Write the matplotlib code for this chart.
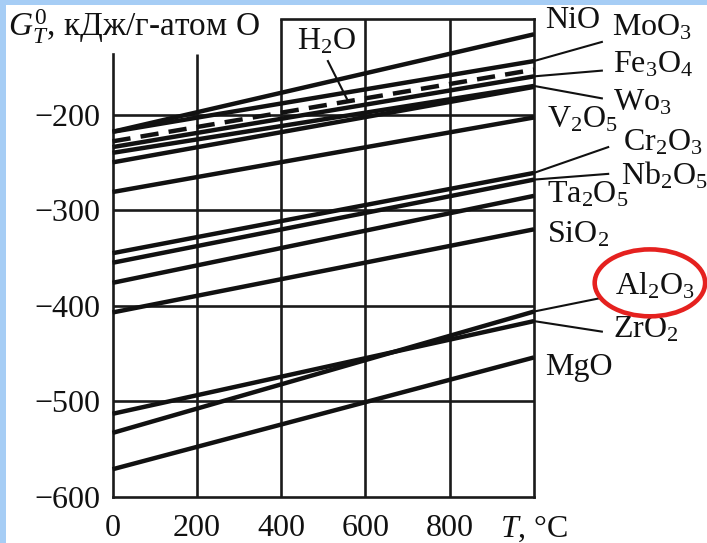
import matplotlib
matplotlib.use('Agg')
import matplotlib.pyplot as plt
from matplotlib.patches import Ellipse, Rectangle

plt.rcParams['font.family'] = ['Liberation Serif', 'DejaVu Serif']
plt.rcParams['mathtext.fontset'] = 'custom'
plt.rcParams['mathtext.rm'] = 'Liberation Serif'
plt.rcParams['mathtext.it'] = 'Liberation Serif:italic'
plt.rcParams['mathtext.bf'] = 'Liberation Serif:bold'

# ---- data ----
temps = [0, 1000]
oxides = ['NiO', 'MoO3', 'H2O', 'Fe3O4', 'WO3', 'unlabeled', 'V2O5', 'Cr2O3',
          'Nb2O5', 'Ta2O5', 'SiO2', 'Al2O3', 'ZrO2', 'MgO']
g_start = [-218, -218, -228, -234, -240, -250, -281, -345, -355, -376, -407, -533, -513, -571]
g_end = [-116, -144, -153, -160, -170, -171, -203, -261, -268, -285, -320, -406, -416, -454]
dashed = ['H2O']

x_ticks = [0, 200, 400, 600, 800, 1000]
x_ticklabels = ['0', '200', '400', '600', '800', '$T$, °C']
y_ticks = [-600, -500, -400, -300, -200]
y_ticklabels = ['−600', '−500', '−400', '−300', '−200']
y_title = '$G_T^0$, кДж/г-атом O'

label_text = {
    'NiO': 'NiO', 'MoO3': 'MoO$_3$', 'Fe3O4': 'Fe$_3$O$_4$', 'WO3': 'Wo$_3$',
    'V2O5': 'V$_2$O$_5$', 'Cr2O3': 'Cr$_2$O$_3$', 'Nb2O5': 'Nb$_2$O$_5$',
    'Ta2O5': 'Ta$_2$O$_5$', 'SiO2': 'SiO$_2$', 'Al2O3': 'Al$_2$O$_3$',
    'ZrO2': 'ZrO$_2$', 'MgO': 'MgO', 'H2O': 'H$_2$O',
}
# label anchor (left, baseline) in data units
label_pos = {
    'NiO': (1026, -109), 'MoO3': (1185, -117), 'Fe3O4': (1187, -156),
    'WO3': (1187, -196), 'V2O5': (1031, -214), 'Cr2O3': (1211, -238),
    'Nb2O5': (1206, -273), 'Ta2O5': (1031, -292), 'SiO2': (1031, -334),
    'Al2O3': (1192, -388), 'ZrO2': (1187, -433), 'MgO': (1026, -472),
    'H2O': (438, -132),
}
# leader end points (data units)
leaders = {
    'MoO3': (1161, -124), 'Fe3O4': (1161, -154), 'WO3': (1161, -183),
    'Cr2O3': (1176, -234), 'Nb2O5': (1176, -262), 'Al2O3': (1157, -392),
    'ZrO2': (1161, -427),
}

W, H = 707, 543
fig = plt.figure(figsize=(W / 100, H / 100), dpi=100)
fig.patch.set_facecolor('white')
fig.patches.append(Rectangle((0, 0), 6 / W, 1, transform=fig.transFigure,
                             facecolor='#a6cdf5', edgecolor='none', zorder=0))
fig.patches.append(Rectangle((0, (H - 5) / H), 1, 5 / H, transform=fig.transFigure,
                             facecolor='#a6cdf5', edgecolor='none', zorder=0))

ax = fig.add_axes([112.5 / W, 46 / H, 421.5 / W, 478 / H])
ax.set_zorder(2)
ax.set_facecolor('none')
ax.set_xlim(0, 1000)
ax.set_ylim(-600, -100)

lw_grid = 1.9
for s in ax.spines.values():
    s.set_linewidth(lw_grid)
    s.set_color('#1a1a1a')
ax.spines['top'].set_bounds(400, 1000)
ax.spines['left'].set_bounds(-600, -137)

ax.vlines([200], -600, -137, colors='#1a1a1a', lw=lw_grid, zorder=1)
ax.vlines([400, 600, 800], -600, -100, colors='#1a1a1a', lw=lw_grid, zorder=1)
ax.hlines([-500, -400, -300, -200], 0, 1000, colors='#1a1a1a', lw=lw_grid, zorder=1)

for name, g0, g1 in zip(oxides, g_start, g_end):
    ls = (0, (4.1, 2.3)) if name in dashed else '-'
    ax.plot(temps, [g0, g1], color='#111111', lw=3.2, ls=ls,
            solid_capstyle='butt', zorder=3, clip_on=False)

fs = 23
ax.set_xticks(x_ticks)
ax.set_xticklabels(x_ticklabels, fontsize=fs)
ax.set_yticks(y_ticks)
ax.set_yticklabels(y_ticklabels, fontsize=fs)
ax.tick_params(length=0, pad=9, colors='#111111')
ax.tick_params(axis='x', pad=12)

ax.text(-248, -118, y_title, fontsize=24, ha='left', va='baseline',
        color='#111111', clip_on=False)

for name, txt in label_text.items():
    x, y = label_pos[name]
    ax.text(x, y, txt, fontsize=fs, ha='left', va='baseline',
            color='#111111', clip_on=False)

for name, (xe, ye) in leaders.items():
    i = oxides.index(name)
    ax.plot([1000, xe], [g_end[i], ye], color='#111111', lw=1.5,
            clip_on=False, zorder=3)

# H2O leader onto dashed line
i = oxides.index('H2O')
xh = 559
yh = g_start[i] + (g_end[i] - g_start[i]) * xh / 1000
ax.plot([xh, 511], [yh, -144], color='#111111', lw=1.5, clip_on=False, zorder=3)

ax.add_patch(Ellipse((1275, -376), 262, 70, fill=False, edgecolor='#e5211f',
                     lw=3.3, clip_on=False, zorder=4))

fig.savefig('out.png', dpi=100)
